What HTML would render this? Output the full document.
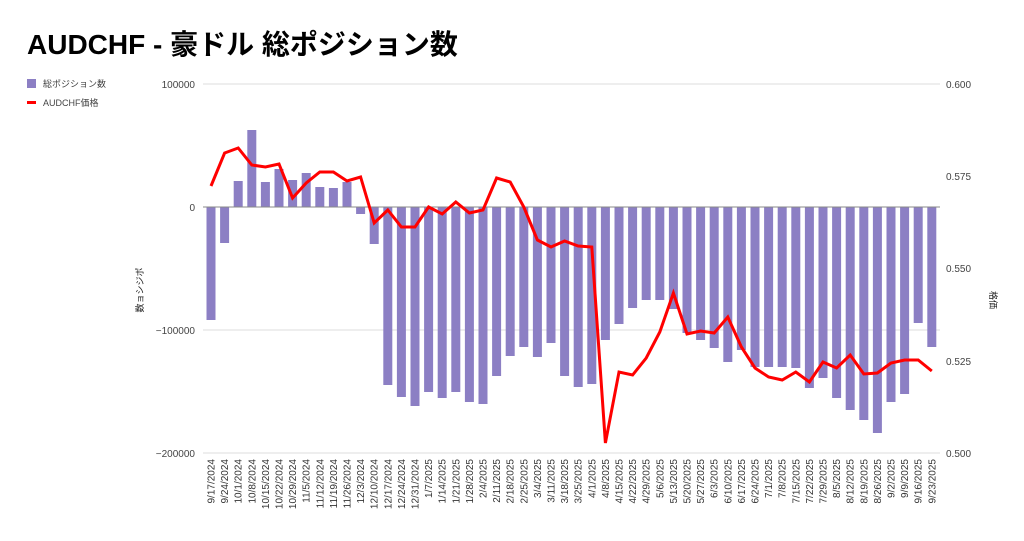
<!DOCTYPE html>
<html><head><meta charset="utf-8"><style>
body{margin:0;background:#fff;}
svg text{font-family:"Liberation Sans","Noto Sans CJK JP",sans-serif;}
</style></head><body>
<svg width="1024" height="536" viewBox="0 0 1024 536" xmlns="http://www.w3.org/2000/svg">
<text x="27" y="54" font-size="28" font-weight="bold" fill="#000">AUDCHF - 豪ドル 総ポジション数</text>
<rect x="27" y="79" width="9" height="9" fill="#8c7fc4"/>
<text x="43" y="87" font-size="9" fill="#444">総ポジション数</text>
<rect x="27" y="101" width="9" height="3" fill="#f00"/>
<text x="43" y="106" font-size="9" fill="#444">AUDCHF価格</text>
<g stroke="#ddd" stroke-width="1">
<line x1="203" y1="84" x2="940" y2="84"/>
<line x1="203" y1="330" x2="940" y2="330"/>
<line x1="203" y1="453" x2="940" y2="453"/>
</g>
<g font-size="10" fill="#444" text-anchor="end">
<text x="195" y="88">100000</text>
<text x="195" y="211">0</text>
<text x="195" y="334">−100000</text>
<text x="195" y="457">−200000</text>
</g>
<g font-size="10" fill="#444">
<text x="946" y="88">0.600</text>
<text x="946" y="180">0.575</text>
<text x="946" y="272">0.550</text>
<text x="946" y="365">0.525</text>
<text x="946" y="457">0.500</text>
</g>
<text transform="translate(143,290) rotate(-90)" font-size="9" fill="#222" text-anchor="middle">数ョシジポ</text>
<text transform="translate(990,300) rotate(90)" font-size="9" fill="#222" text-anchor="middle">格価</text>
<g fill="#8c7fc4">
<rect x="206.5" y="207" width="9" height="113"/>
<rect x="220.1" y="207" width="9" height="36"/>
<rect x="233.7" y="181" width="9" height="26"/>
<rect x="247.3" y="130" width="9" height="77"/>
<rect x="260.9" y="182" width="9" height="25"/>
<rect x="274.5" y="169" width="9" height="38"/>
<rect x="288.1" y="180" width="9" height="27"/>
<rect x="301.7" y="173" width="9" height="34"/>
<rect x="315.3" y="187" width="9" height="20"/>
<rect x="328.9" y="188" width="9" height="19"/>
<rect x="342.5" y="182" width="9" height="25"/>
<rect x="356.1" y="207" width="9" height="7"/>
<rect x="369.7" y="207" width="9" height="37"/>
<rect x="383.3" y="207" width="9" height="178"/>
<rect x="396.9" y="207" width="9" height="190"/>
<rect x="410.5" y="207" width="9" height="199"/>
<rect x="424.1" y="207" width="9" height="185"/>
<rect x="437.7" y="207" width="9" height="191"/>
<rect x="451.3" y="207" width="9" height="185"/>
<rect x="464.9" y="207" width="9" height="195"/>
<rect x="478.5" y="207" width="9" height="197"/>
<rect x="492.1" y="207" width="9" height="169"/>
<rect x="505.7" y="207" width="9" height="149"/>
<rect x="519.3" y="207" width="9" height="140"/>
<rect x="532.9" y="207" width="9" height="150"/>
<rect x="546.5" y="207" width="9" height="136"/>
<rect x="560.1" y="207" width="9" height="169"/>
<rect x="573.7" y="207" width="9" height="180"/>
<rect x="587.3" y="207" width="9" height="177"/>
<rect x="600.9" y="207" width="9" height="133"/>
<rect x="614.5" y="207" width="9" height="117"/>
<rect x="628.1" y="207" width="9" height="101"/>
<rect x="641.7" y="207" width="9" height="93"/>
<rect x="655.3" y="207" width="9" height="93"/>
<rect x="668.9" y="207" width="9" height="102"/>
<rect x="682.5" y="207" width="9" height="126"/>
<rect x="696.1" y="207" width="9" height="133"/>
<rect x="709.7" y="207" width="9" height="141"/>
<rect x="723.3" y="207" width="9" height="155"/>
<rect x="736.9" y="207" width="9" height="143"/>
<rect x="750.5" y="207" width="9" height="160"/>
<rect x="764.1" y="207" width="9" height="160"/>
<rect x="777.7" y="207" width="9" height="160"/>
<rect x="791.3" y="207" width="9" height="161"/>
<rect x="804.9" y="207" width="9" height="181"/>
<rect x="818.5" y="207" width="9" height="171"/>
<rect x="832.1" y="207" width="9" height="191"/>
<rect x="845.7" y="207" width="9" height="203"/>
<rect x="859.3" y="207" width="9" height="213"/>
<rect x="872.9" y="207" width="9" height="226"/>
<rect x="886.5" y="207" width="9" height="195"/>
<rect x="900.1" y="207" width="9" height="187"/>
<rect x="913.7" y="207" width="9" height="116"/>
<rect x="927.3" y="207" width="9" height="140"/>
</g>
<line x1="203" y1="207" x2="940" y2="207" stroke="#888" stroke-width="1"/>
<polyline fill="none" stroke="#f00" stroke-width="3" stroke-linejoin="miter" points="211,186 224.6,153 238.2,148 251.8,165 265.4,167 279,164 292.6,198 306.2,183 319.8,172 333.4,172 347,181 360.6,177 374.2,223 387.8,210 401.4,227 415,227 428.6,207 442.2,214 455.8,202 469.4,213 483,210 496.6,178 510.2,182 523.8,207 537.4,240 551,247 564.6,241 578.2,246 591.8,247 605.4,443 619,372 632.6,375 646.2,358 659.8,332 673.4,293 687,334 700.6,331 714.2,333 727.8,317 741.4,347 755,368 768.6,377 782.2,380 795.8,372 809.4,382 823,362 836.6,368 850.2,355 863.8,374 877.4,373 891,363 904.6,360 918.2,360 931.8,371"/>
<g font-size="10" fill="#333" text-anchor="end">
<text transform="translate(214.5,459) rotate(-90)">9/17/2024</text>
<text transform="translate(228.1,459) rotate(-90)">9/24/2024</text>
<text transform="translate(241.7,459) rotate(-90)">10/1/2024</text>
<text transform="translate(255.3,459) rotate(-90)">10/8/2024</text>
<text transform="translate(268.9,459) rotate(-90)">10/15/2024</text>
<text transform="translate(282.5,459) rotate(-90)">10/22/2024</text>
<text transform="translate(296.1,459) rotate(-90)">10/29/2024</text>
<text transform="translate(309.7,459) rotate(-90)">11/5/2024</text>
<text transform="translate(323.3,459) rotate(-90)">11/12/2024</text>
<text transform="translate(336.9,459) rotate(-90)">11/19/2024</text>
<text transform="translate(350.5,459) rotate(-90)">11/26/2024</text>
<text transform="translate(364.1,459) rotate(-90)">12/3/2024</text>
<text transform="translate(377.7,459) rotate(-90)">12/10/2024</text>
<text transform="translate(391.3,459) rotate(-90)">12/17/2024</text>
<text transform="translate(404.9,459) rotate(-90)">12/24/2024</text>
<text transform="translate(418.5,459) rotate(-90)">12/31/2024</text>
<text transform="translate(432.1,459) rotate(-90)">1/7/2025</text>
<text transform="translate(445.7,459) rotate(-90)">1/14/2025</text>
<text transform="translate(459.3,459) rotate(-90)">1/21/2025</text>
<text transform="translate(472.9,459) rotate(-90)">1/28/2025</text>
<text transform="translate(486.5,459) rotate(-90)">2/4/2025</text>
<text transform="translate(500.1,459) rotate(-90)">2/11/2025</text>
<text transform="translate(513.7,459) rotate(-90)">2/18/2025</text>
<text transform="translate(527.3,459) rotate(-90)">2/25/2025</text>
<text transform="translate(540.9,459) rotate(-90)">3/4/2025</text>
<text transform="translate(554.5,459) rotate(-90)">3/11/2025</text>
<text transform="translate(568.1,459) rotate(-90)">3/18/2025</text>
<text transform="translate(581.7,459) rotate(-90)">3/25/2025</text>
<text transform="translate(595.3,459) rotate(-90)">4/1/2025</text>
<text transform="translate(608.9,459) rotate(-90)">4/8/2025</text>
<text transform="translate(622.5,459) rotate(-90)">4/15/2025</text>
<text transform="translate(636.1,459) rotate(-90)">4/22/2025</text>
<text transform="translate(649.7,459) rotate(-90)">4/29/2025</text>
<text transform="translate(663.3,459) rotate(-90)">5/6/2025</text>
<text transform="translate(676.9,459) rotate(-90)">5/13/2025</text>
<text transform="translate(690.5,459) rotate(-90)">5/20/2025</text>
<text transform="translate(704.1,459) rotate(-90)">5/27/2025</text>
<text transform="translate(717.7,459) rotate(-90)">6/3/2025</text>
<text transform="translate(731.3,459) rotate(-90)">6/10/2025</text>
<text transform="translate(744.9,459) rotate(-90)">6/17/2025</text>
<text transform="translate(758.5,459) rotate(-90)">6/24/2025</text>
<text transform="translate(772.1,459) rotate(-90)">7/1/2025</text>
<text transform="translate(785.7,459) rotate(-90)">7/8/2025</text>
<text transform="translate(799.3,459) rotate(-90)">7/15/2025</text>
<text transform="translate(812.9,459) rotate(-90)">7/22/2025</text>
<text transform="translate(826.5,459) rotate(-90)">7/29/2025</text>
<text transform="translate(840.1,459) rotate(-90)">8/5/2025</text>
<text transform="translate(853.7,459) rotate(-90)">8/12/2025</text>
<text transform="translate(867.3,459) rotate(-90)">8/19/2025</text>
<text transform="translate(880.9,459) rotate(-90)">8/26/2025</text>
<text transform="translate(894.5,459) rotate(-90)">9/2/2025</text>
<text transform="translate(908.1,459) rotate(-90)">9/9/2025</text>
<text transform="translate(921.7,459) rotate(-90)">9/16/2025</text>
<text transform="translate(935.3,459) rotate(-90)">9/23/2025</text>
</g>
</svg>
</body></html>
